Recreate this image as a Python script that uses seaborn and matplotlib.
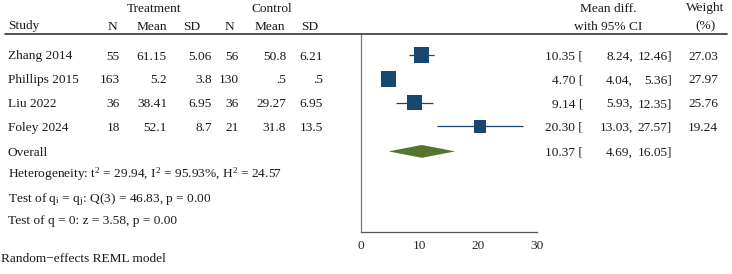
import numpy as np
import seaborn as sns
import matplotlib.pyplot as plt
from matplotlib import transforms

# data
studies = ["Zhang 2014", "Phillips 2015", "Liu 2022", "Foley 2024"]
trt_n = [55, 163, 36, 18]
trt_mean = [61.15, 5.2, 38.41, 52.1]
trt_sd = [5.06, 3.8, 6.95, 8.7]
ctl_n = [56, 130, 36, 21]
ctl_mean = [50.8, 0.5, 29.27, 31.8]
ctl_sd = [6.21, 0.5, 6.95, 13.5]
est = [10.35, 4.70, 9.14, 20.30]
ci_lo = [8.24, 4.04, 5.93, 13.03]
ci_hi = [12.46, 5.36, 12.35, 27.57]
weight = [27.03, 27.97, 25.76, 19.24]
overall = [10.37, 4.69, 16.05]
stats_lines = [
    r"Heterogeneity: t$^{2}$ = 29.94, I$^{2}$ = 95.93%, H$^{2}$ = 24.57",
    r"Test of q$_{\mathrm{i}}$ = q$_{\mathrm{j}}$: Q(3) = 46.83, p = 0.00",
    r"Test of q = 0: z = 3.58, p = 0.00",
]
note = "Random\u2212effects REML model"

NAVY = "#1a476f"
GREEN = "#55752f"
W, H = 732, 274

sns.set_theme(style="white")
plt.rcParams["font.family"] = ["Liberation Serif", "DejaVu Serif"]
plt.rcParams["mathtext.fontset"] = "custom"
plt.rcParams["mathtext.rm"] = "Liberation Serif"
plt.rcParams["mathtext.it"] = "Liberation Serif:italic"
plt.rcParams["mathtext.bf"] = "Liberation Serif:bold"
FS = 9.6


def fmt(v):
    s = f"{v:g}"
    return s[1:] if s.startswith("0.") else s


fig = plt.figure(figsize=(W / 100, H / 100), dpi=100)
# plot panel: x 361..537 px, y 35..232 px
ax = fig.add_axes([361 / W, 1 - 232 / H, (537 - 361) / W, (232 - 35) / H])

row_px = 23.8
y0_px = 55
ax.set_ylim((232 - y0_px) / row_px, (35 - y0_px) / row_px)
ax.set_xlim(0, 30)

rows = np.arange(len(studies))
y_overall = 4.05
y_stats = [4.98, 6.0, 6.93]

# CIs and weighted squares
ax.hlines(rows, ci_lo, ci_hi, color=NAVY, lw=0.9, zorder=2)
sns.scatterplot(x=est, y=rows, size=weight, sizes=(4.4 * min(weight), 4.4 * max(weight)),
                marker="s", color=NAVY, linewidth=0, legend=False, ax=ax, zorder=3)

# overall diamond
dh = 0.27
ax.fill([overall[1], overall[0], overall[2], overall[0]],
        [y_overall, y_overall - dh, y_overall, y_overall + dh],
        color=GREEN, lw=0, zorder=3)

ax.set_xticks([0, 10, 20, 30])
ax.set_yticks([])
ax.tick_params(axis="x", length=4, width=0.8, color="#555555", pad=1.5, labelsize=FS)
for side in ["top", "right"]:
    ax.spines[side].set_visible(False)
ax.spines["left"].set_color("#777777")
ax.spines["left"].set_linewidth(0.9)
ax.spines["bottom"].set_color("#555555")
ax.spines["bottom"].set_linewidth(0.9)

tr = transforms.blended_transform_factory(fig.transFigure, ax.transData)
base_off = 4.5 / row_px  # baseline sits below the visual centre of the caps


def put(xpx, y, s, ha="right"):
    ax.text(xpx / W, y + base_off, s, transform=tr, ha=ha, va="baseline", fontsize=FS,
            color="#1a1a1a", clip_on=False)


# header
y_h1 = (7 - y0_px) / row_px
y_h2 = (25 - y0_px) / row_px
put(154, y_h1, "Treatment", "center")
put(272, y_h1, "Control", "center")
put(608, y_h1, "Mean diff.", "center")
put(705, y_h1, "Weight", "center")
put(8, y_h2, "Study", "left")
for xc, lab in zip([112, 152, 192, 229, 270, 310], ["N", "Mean", "SD", "N", "Mean", "SD"]):
    put(xc, y_h2, lab, "center")
put(608, y_h2, "with 95% CI", "center")
put(705, y_h2, "(%)", "center")
ax.plot([5 / W, 727 / W], [(34 - y0_px) / row_px] * 2, transform=tr,
        color="#333333", lw=1.2, clip_on=False)

# study rows
for i, name in enumerate(studies):
    put(8, i, name, "left")
    put(120, i, fmt(trt_n[i]))
    put(167, i, fmt(trt_mean[i]))
    put(212, i, fmt(trt_sd[i]))
    put(239, i, fmt(ctl_n[i]))
    put(286, i, fmt(ctl_mean[i]))
    put(323, i, fmt(ctl_sd[i]))
    put(583, i, f"{est[i]:.2f} [")
    put(633, i, f"{ci_lo[i]:.2f},")
    put(672, i, f"{ci_hi[i]:.2f}]")
    put(718, i, f"{weight[i]:.2f}")

put(8, y_overall, "Overall", "left")
put(583, y_overall, f"{overall[0]:.2f} [")
put(633, y_overall, f"{overall[1]:.2f},")
put(672, y_overall, f"{overall[2]:.2f}]")

for y, s in zip(y_stats, stats_lines):
    put(8, y, s, "left")

put(1, (257 - y0_px) / row_px, note, "left")

plt.savefig("out.png", dpi=100)
